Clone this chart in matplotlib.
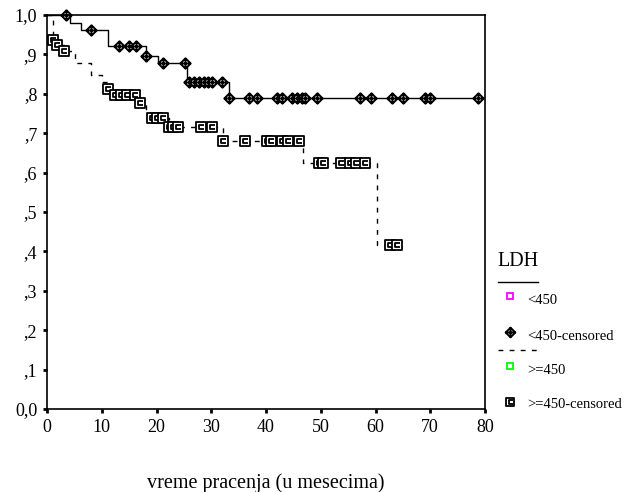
import matplotlib
matplotlib.use("Agg")
import matplotlib.pyplot as plt
from matplotlib.path import Path
from matplotlib.lines import Line2D
import numpy as np

plt.rcParams['font.family'] = ['Liberation Serif', 'DejaVu Serif']

# ---- data ----
# LDH < 450 : step times and survival after each step
low_step_t = [0, 4.2, 6.3, 11.2, 18.1, 20.3, 25.5, 33.2, 78.8]
low_step_s = [1.0, 0.979, 0.962, 0.921, 0.897, 0.877, 0.83, 0.79, 0.79]
low_cens_t = [3.5, 8.0, 13.2, 14.9, 16.2, 18.1, 21.1, 25.2, 25.9, 26.9, 27.8, 28.6,
              29.4, 30.2, 32.0, 33.2, 36.9, 38.3, 42.0, 42.9, 44.7, 45.6, 46.5,
              47.1, 49.3, 57.2, 59.1, 63.0, 65.1, 69.0, 70.0, 78.8]

# LDH >= 450
high_step_t = [0, 1.15, 1.9, 3.1, 5.1, 8.0, 10.0, 11.2, 12.3, 17.0, 18.1, 18.8,
               22.2, 32.1, 46.8, 60.2, 64.0]
high_step_s = [1.0, 0.937, 0.924, 0.909, 0.877, 0.848, 0.831, 0.811, 0.797, 0.776,
               0.754, 0.738, 0.717, 0.68, 0.624, 0.416, 0.416]
high_cens_t = [1.15, 1.9, 3.1, 11.2, 12.4, 13.5, 14.6, 16.1, 17.0, 19.1, 20.0, 21.1,
               22.2, 23.1, 24.0, 28.1, 30.1, 32.1, 36.2, 40.1, 41.0, 42.9, 44.1,
               46.1, 49.6, 50.5, 53.7, 55.4, 56.5, 58.1, 62.7, 64.0]

xticks = [0, 10, 20, 30, 40, 50, 60, 70, 80]
yticks = [0.0, 0.1, 0.2, 0.3, 0.4, 0.5, 0.6, 0.7, 0.8, 0.9, 1.0]
ytick_labels = ['0,0', ',1', ',2', ',3', ',4', ',5', ',6', ',7', ',8', ',9', '1,0']
legend_title = 'LDH'
legend_labels = ['<450', '<450-censored', '>=450', '>=450-censored']
xlabel = 'vreme pracenja (u mesecima)'


def surv_at(times, steps_t, steps_s):
    out = []
    for t in times:
        idx = np.searchsorted(steps_t, t, side='right') - 1
        out.append(steps_s[max(idx, 0)])
    return out


# ---- markers ----
diamond_plus = Path(
    [(0, 1), (1, 0), (0, -1), (-1, 0), (0, 1),
     (0, 1), (0, -1), (-1, 0), (1, 0)],
    [Path.MOVETO, Path.LINETO, Path.LINETO, Path.LINETO, Path.CLOSEPOLY,
     Path.MOVETO, Path.LINETO, Path.MOVETO, Path.LINETO])
square_c = Path(
    [(-1, -1), (1, -1), (1, 1), (-1, 1), (-1, -1),
     (0.6, 0.45), (-0.35, 0.45), (-0.35, -0.45), (0.6, -0.45)],
    [Path.MOVETO, Path.LINETO, Path.LINETO, Path.LINETO, Path.CLOSEPOLY,
     Path.MOVETO, Path.LINETO, Path.LINETO, Path.LINETO])

fig = plt.figure(figsize=(6.24, 4.92), dpi=100)
ax = fig.add_axes([47 / 624, 1 - 409 / 492, 438 / 624, 394 / 492])

ax.step(low_step_t, low_step_s, where='post', color='black', lw=1.0)
ax.step(high_step_t, high_step_s, where='post', color='black', lw=1.0,
        linestyle=(0, (3.5, 4.5)))

ax.plot(low_cens_t, surv_at(low_cens_t, low_step_t, low_step_s), linestyle='none',
        marker=diamond_plus, markersize=7.5, markerfacecolor='white',
        markeredgecolor='black', markeredgewidth=1.4, clip_on=False)
ax.plot(high_cens_t, surv_at(high_cens_t, high_step_t, high_step_s), linestyle='none',
        marker=square_c, markersize=6.5, markerfacecolor='white',
        markeredgecolor='black', markeredgewidth=1.3, clip_on=False)

ax.set_xlim(0, 80)
ax.set_ylim(0, 1)
ax.set_xticks(xticks)
ax.set_xticklabels([str(v) for v in xticks], fontsize=13)
ax.set_yticks(yticks)
ax.set_yticklabels(ytick_labels, fontsize=13)
ax.tick_params(axis='y', direction='out', length=3, width=2, pad=4)
ax.tick_params(axis='x', direction='out', length=3, width=2, pad=4)
for sp in ax.spines.values():
    sp.set_linewidth(1.2)
ax.set_xlabel(xlabel, fontsize=14.5, labelpad=27)

# ---- legend drawn manually ----
fig.text(497 / 624, 1 - 262 / 492, legend_title, fontsize=14.5, va='center', ha='left')
fig.add_artist(Line2D([498 / 624, 538 / 624], [1 - 282 / 492, 1 - 282 / 492],
                      color='black', lw=1.0))
fig.add_artist(Line2D([510 / 624], [1 - 296 / 492], marker='s', markersize=5,
                      markerfacecolor='white', markeredgecolor='#ff00ff',
                      markeredgewidth=1.3, linestyle='none'))
fig.text(527 / 624, 1 - 301 / 492, legend_labels[0], fontsize=10.5, va='center', ha='left')
fig.add_artist(Line2D([510 / 624], [1 - 332 / 492], marker=diamond_plus, markersize=7,
                      markerfacecolor='white', markeredgecolor='black',
                      markeredgewidth=1.4, linestyle='none'))
fig.text(527 / 624, 1 - 336 / 492, legend_labels[1], fontsize=10.5, va='center', ha='left')
fig.add_artist(Line2D([498 / 624, 538 / 624], [1 - 350 / 492, 1 - 350 / 492],
                      color='black', lw=1.0, linestyle=(0, (3.5, 4.5))))
fig.add_artist(Line2D([510 / 624], [1 - 366 / 492], marker='s', markersize=5,
                      markerfacecolor='white', markeredgecolor='#00ff00',
                      markeredgewidth=1.3, linestyle='none'))
fig.text(527 / 624, 1 - 370 / 492, legend_labels[2], fontsize=10.5, va='center', ha='left')
fig.add_artist(Line2D([510 / 624], [1 - 402 / 492], marker=square_c, markersize=6,
                      markerfacecolor='white', markeredgecolor='black',
                      markeredgewidth=1.3, linestyle='none'))
fig.text(527 / 624, 1 - 405 / 492, legend_labels[3], fontsize=10.5, va='center', ha='left')

fig.savefig('out.png', dpi=100)
